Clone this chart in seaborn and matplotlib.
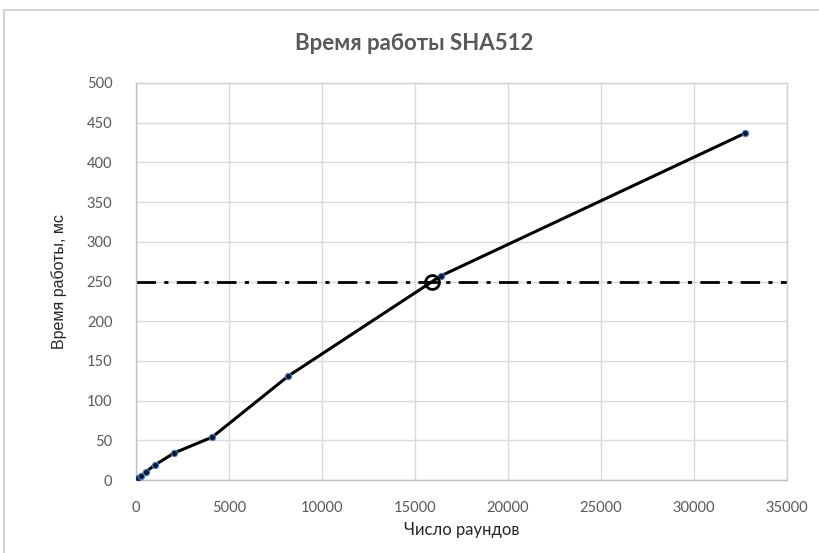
import matplotlib
matplotlib.use("Agg")
import matplotlib.pyplot as plt
import seaborn as sns
import pandas as pd
from matplotlib.patches import Rectangle

rounds = [1, 2, 4, 8, 16, 32, 64, 128, 256, 512, 1024, 2048, 4096, 8192, 16384, 32768]
time_ms = [0.1, 0.1, 0.2, 0.3, 0.4, 0.7, 1.3, 2.5, 5, 10, 19, 34, 54, 131, 257, 437]
threshold = 250
cross_x = 15900
title = "Время работы SHA512"
xlabel = "Число раундов"
ylabel = "Время работы, мс"
xticks = [0, 5000, 10000, 15000, 20000, 25000, 30000, 35000]
yticks = [0, 50, 100, 150, 200, 250, 300, 350, 400, 450, 500]

sns.set_theme(style="whitegrid")
plt.rcParams['font.family'] = ['Lato', 'DejaVu Sans']

df = pd.DataFrame({"rounds": rounds, "time": time_ms})

fig = plt.figure(figsize=(8.19, 5.53), dpi=100)
ax = fig.add_axes([136/819, 73/553, 651/819, 397/553])

fig.patches.append(Rectangle((4/819, -0.05), 1.0, 543/553 + 0.05, transform=fig.transFigure,
                             fill=False, edgecolor="#d4d4d4", linewidth=1.5))

ax.axhline(threshold, color="black", linewidth=2.0, dashes=(7, 3, 1.5, 3), zorder=2)
sns.lineplot(data=df, x="rounds", y="time", ax=ax, color="black", linewidth=2.2,
             marker="o", markersize=4.5, markerfacecolor="#0b1a33",
             markeredgecolor="#4f81bd", markeredgewidth=0.8, zorder=3)
ax.plot([cross_x], [threshold], marker="o", markersize=10, markerfacecolor="none",
        markeredgecolor="black", markeredgewidth=2.0, linestyle="none", zorder=4)

ax.set_xlim(0, 35000)
ax.set_ylim(0, 500)
ax.set_xticks(xticks)
ax.set_yticks(yticks)
ax.grid(True, color="#d9d9d9", linewidth=1.0)
for s in ax.spines.values():
    s.set_visible(True)
    s.set_color("#d0d0d0")
    s.set_linewidth(1.0)
ax.spines["left"].set_color("#bfbfbf")
ax.spines["bottom"].set_color("#bfbfbf")
ax.tick_params(axis="both", labelsize=10.5, colors="#595959", length=0)
ax.tick_params(axis="x", pad=15)
ax.tick_params(axis="y", pad=17)

ax.set_xlabel(xlabel, fontsize=12, color="#262626", labelpad=5)
ax.set_ylabel(ylabel, fontsize=11.5, color="#262626", labelpad=14,
              family=['Liberation Sans', 'DejaVu Sans'])
fig.text(414/819, 1 - 43/553, title, ha="center", va="center", fontsize=16,
         fontweight="bold", color="#595959")

fig.savefig("out.png", dpi=100)
